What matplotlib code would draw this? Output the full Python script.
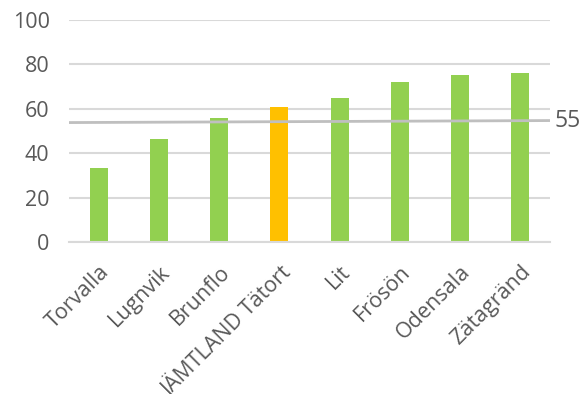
import matplotlib.pyplot as plt

# categories and values
places = ["Torvalla", "Lugnvik", "Brunflo", "JÄMTLAND Tätort", "Lit", "Frösön", "Odensala", "Zätagränd"]
values = [33.4, 46.5, 55.9, 60.9, 64.8, 72.2, 75.3, 76.2]
colors = ["#92D050", "#92D050", "#92D050", "#FFC000", "#92D050", "#92D050", "#92D050", "#92D050"]

# reference line (runs across the plot, labelled 55)
line_x = [-0.5, 7.5]
line_y = [53.8, 54.7]
line_label = "55"

plt.rcParams['font.family'] = ['Open Sans', 'DejaVu Sans']
text_col = "#595959"

fig = plt.figure(figsize=(5.87, 3.94), dpi=100)
ax = fig.add_axes([69 / 587, 1 - 242 / 394, 481 / 587, 222 / 394])

x = list(range(len(places)))
ax.bar(x, values, width=0.3, color=colors, zorder=2)
ax.plot(line_x, line_y, color="#BFBFBF", linewidth=2, zorder=3, solid_capstyle="butt")
ax.text(1.01, line_y[-1], line_label, transform=ax.get_yaxis_transform(),
        fontsize=16.5, color=text_col, va="center", ha="left")

ax.set_xlim(-0.5, 7.5)
ax.set_ylim(0, 100)
ax.set_yticks([0, 20, 40, 60, 80, 100])
ax.yaxis.grid(True, color="#D9D9D9", linewidth=1.5, zorder=0)
ax.set_axisbelow(True)

for s in ["top", "right", "left"]:
    ax.spines[s].set_visible(False)
ax.spines["bottom"].set_color("#D9D9D9")
ax.spines["bottom"].set_linewidth(1.5)

ax.set_xticks(x)
ax.set_xticklabels(places, rotation=45, ha="right", rotation_mode="anchor",
                   fontsize=15.5, color=text_col)
ax.tick_params(axis="x", length=0, pad=14)
ax.tick_params(axis="y", length=0, pad=14, labelsize=15.5, labelcolor=text_col)

fig.savefig("out.png", dpi=100)
